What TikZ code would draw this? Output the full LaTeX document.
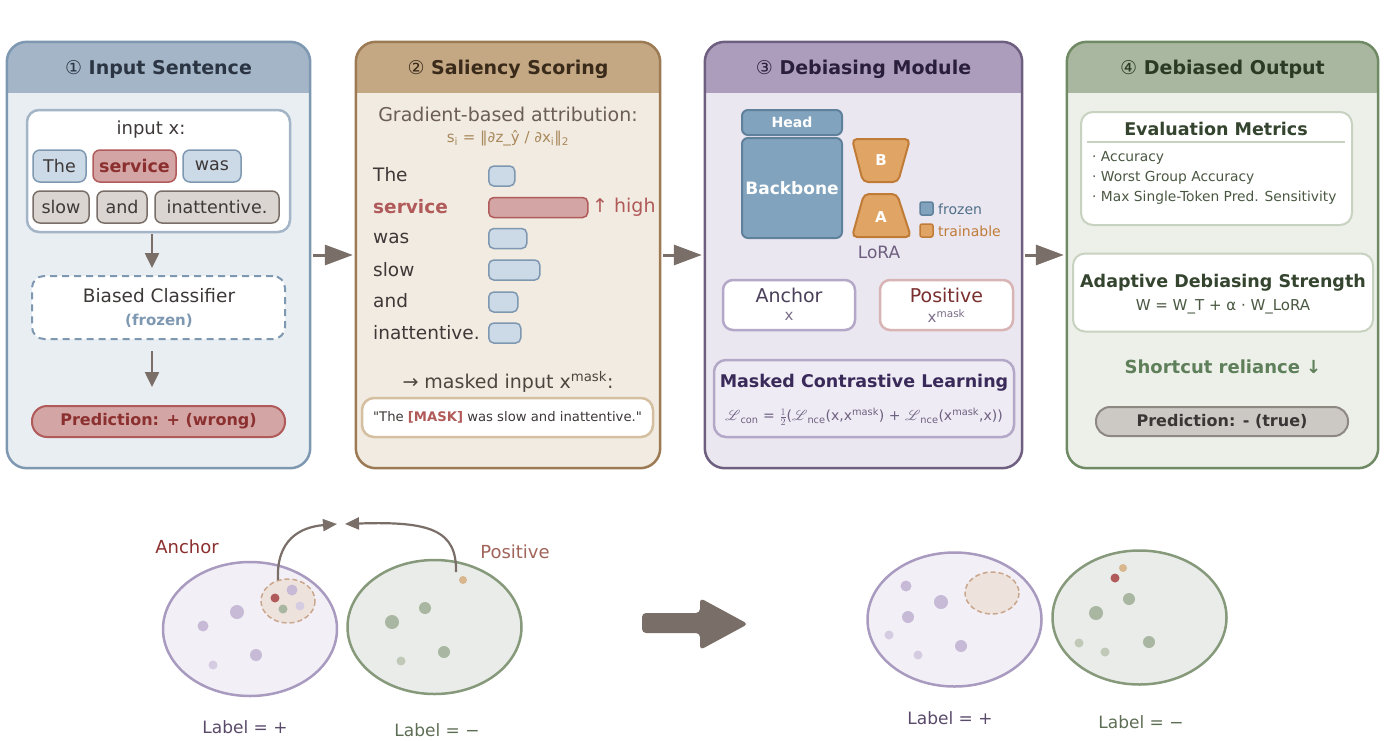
\documentclass[tikz,border=0pt]{standalone}
\usepackage{fontspec}
\setmainfont{DejaVu Sans}
\usepackage{mathrsfs}
\usetikzlibrary{arrows.meta,calc}
\definecolor{hA}{HTML}{A3B5C7}\definecolor{bA}{HTML}{E9EEF3}\definecolor{rA}{HTML}{7E98B2}
\definecolor{hB}{HTML}{C4A884}\definecolor{bB}{HTML}{F2EBE1}\definecolor{rB}{HTML}{9C7B54}
\definecolor{hC}{HTML}{AD9DBD}\definecolor{bC}{HTML}{EBE7F1}\definecolor{rC}{HTML}{6E5F80}
\definecolor{hD}{HTML}{AAB7A0}\definecolor{bD}{HTML}{ECF0E9}\definecolor{rD}{HTML}{6F8A64}
\definecolor{tokblue}{HTML}{CCDAE7}\definecolor{bordblue}{HTML}{7E98B2}
\definecolor{tokred}{HTML}{D4A5A5}\definecolor{bordred}{HTML}{B05A5A}\definecolor{darkred}{HTML}{8B2F2F}
\definecolor{tokgray}{HTML}{DAD5D0}\definecolor{bordgray}{HTML}{7A6E68}
\definecolor{arrgray}{HTML}{7A6E68}\definecolor{txt}{HTML}{3E3838}
\definecolor{bbfill}{HTML}{82A3BD}\definecolor{bbdraw}{HTML}{5F819C}
\definecolor{lfill}{HTML}{E0A565}\definecolor{ldraw}{HTML}{C07B37}
\definecolor{purpline}{HTML}{B4A8C8}\definecolor{pinkline}{HTML}{D9B4B4}
\definecolor{greenline}{HTML}{C8D2C0}\definecolor{greendark}{HTML}{34442E}
\definecolor{greentxt}{HTML}{4A5842}\definecolor{tanline}{HTML}{D4BFA0}
\definecolor{ellApf}{HTML}{F2EFF7}\definecolor{ellApd}{HTML}{A99BC0}
\definecolor{ellBgf}{HTML}{E9ECE8}\definecolor{ellBgd}{HTML}{869A7B}
\definecolor{clf}{HTML}{EEE3DC}\definecolor{cld}{HTML}{C9A68C}
\definecolor{dotP}{HTML}{C6BAD6}\definecolor{dotPl}{HTML}{D6CCE2}
\definecolor{dotG}{HTML}{A9B6A1}\definecolor{dotGl}{HTML}{C0C9B8}
\definecolor{dotT}{HTML}{D8B68E}\definecolor{dotR}{HTML}{B05A5A}
\definecolor{ttA}{HTML}{2A3442}\definecolor{ttB}{HTML}{3A2A1A}\definecolor{ttC}{HTML}{2A1F3A}\definecolor{ttD}{HTML}{2A3A24}
\definecolor{gbac}{HTML}{6B5E55}\definecolor{formc}{HTML}{A8895C}\definecolor{mic}{HTML}{4E4440}
\definecolor{frzc}{HTML}{4F6F88}\definecolor{ancc}{HTML}{4A3F5A}\definecolor{xc}{HTML}{7A6E88}
\definecolor{posc}{HTML}{7A2E2E}\definecolor{mclfill}{HTML}{EEEBF4}\definecolor{mcltc}{HTML}{3A2A5A}
\definecolor{src}{HTML}{5E7F5A}\definecolor{ptf}{HTML}{CCC8C3}\definecolor{ptd}{HTML}{8E8882}
\definecolor{ptt}{HTML}{3A3636}\definecolor{pslc}{HTML}{A0645A}\definecolor{lpc}{HTML}{5A4A6A}
\definecolor{lgc}{HTML}{5E6E55}
\newcommand\fsz[1]{\fontsize{#1}{#1}\selectfont}
\begin{document}
\begin{tikzpicture}[x=1pt,y=-1pt,
  title/.style={font=\bfseries\fsz{19}},
  tok/.style={rounded corners=7, line width=1.5, minimum height=32, inner sep=0, font=\fsz{17.5}, text=txt},
  tokb/.style={tok, fill=tokblue, draw=bordblue},
  tokr/.style={tok, fill=tokred, draw=bordred, text=darkred, font=\bfseries\fsz{17.5}},
  tokg/.style={tok, fill=tokgray, draw=bordgray},
  flow/.style={draw=arrgray, line width=3, -{Triangle[length=28pt,width=20pt]}, shorten <=3pt, shorten >=3pt},
  darr/.style={draw=arrgray, line width=2.5, -{Triangle[length=15pt,width=14pt]}},
  carr/.style={draw=arrgray, line width=2.2, -{Triangle[length=14pt,width=12pt]}},
  bar/.style={rounded corners=5, line width=1.5, minimum height=20, inner sep=0, anchor=west},
  barb/.style={bar, fill=tokblue, draw=bordblue},
  barr/.style={bar, fill=tokred, draw=bordred},
  word/.style={anchor=west, font=\fsz{18.5}, text=txt, inner sep=0},
  wbox/.style={fill=white, line width=2.5, rounded corners=12, inner sep=0},
  plain/.style={inner sep=0}
]
\useasboundingbox (0,0) rectangle (1400,740);

% ---------- panels ----------
\foreach \n/\xa/\xb/\bd/\hd/\br in {p1/7/310/bA/hA/rA, p2/356/660/bB/hB/rB, p3/705/1022/bC/hC/rC, p4/1067/1378/bD/hD/rD}{
  \node[fill=\bd, rounded corners=20, minimum width=\xb-\xa, minimum height=426, inner sep=0] (\n) at ({(\xa+\xb)/2},255) {};
  \begin{scope}
    \clip[rounded corners=20] (\n.north west) rectangle (\n.south east);
    \fill[\hd] (\n.north west) rectangle ($(\n.north east)+(0,51)$);
  \end{scope}
  \draw[\br, line width=2.5, rounded corners=20] (\n.north west) rectangle (\n.south east);
}
\node[title, text=ttA] (t1) at (158.5,69) {\textmd{①} Input Sentence};
\node[title, text=ttB] (t2) at (508,69) {\textmd{②} Saliency Scoring};
\node[title, text=ttC] (t3) at (863.5,69) {\textmd{③} Debiasing Module};
\node[title, text=ttD] (t4) at (1222.5,69) {\textmd{④} Debiased Output};

\draw[flow] (p1.east) -- (p2.west);
\draw[flow] (p2.east) -- (p3.west);
\draw[flow] (p3.east) -- (p4.west);

% ---------- panel 1 ----------
\node[wbox, draw=hA, minimum width=263, minimum height=122] (inbox) at (158.5,171) {};
\node[plain, font=\fsz{18}, text=txt] (inx) at (151,130) {input x:};
\node[tokb, minimum width=53] (w1) at (59.5,166) {The};
\node[tokr, minimum width=83] (w2) at (134.5,166) {service};
\node[tokb, minimum width=58] (w3) at (212,166) {was};
\node[tokg, minimum width=56] (w4) at (61,207) {slow};
\node[tokg, minimum width=50] (w5) at (122,207) {and};
\node[tokg, minimum width=124] (w6) at (217,207) {inattentive.};
\node[fill=white, draw=rA, dash pattern=on 7pt off 5pt, line width=2, rounded corners=12, minimum width=253, minimum height=63, inner sep=0] (clf) at (158.5,307.5) {};
\node[plain, font=\fsz{18.5}, text=txt] (clft) at (159,296) {Biased Classifier};
\node[plain, font=\bfseries\fsz{15}, text=rA] (clff) at (159,321) {(frozen)};
\node[fill=tokred, draw=bordred, line width=2, rounded corners=15, minimum width=253, minimum height=31, inner sep=0, font=\bfseries\fsz{16}, text=darkred] (pred1) at (158.5,421.5) {Prediction: + (wrong)};
\coordinate (ax) at (152,0);
\draw[darr, shorten <=1pt, shorten >=7pt] (inbox.south -| ax) -- (clf.north -| ax);
\draw[darr, shorten <=11pt, shorten >=18pt] (clf.south -| ax) -- (pred1.north -| ax);

% ---------- panel 2 ----------
\node[plain, font=\fsz{19}, text=gbac] (gba) at (508,114) {Gradient-based attribution:};
\node[plain, font=\fsz{15}, text=formc] (form) at (508,138) {s\textsubscript{i} = ‖∂z\_ŷ / ∂x\textsubscript{i}‖\textsubscript{2}};
\node[word] (s1) at (373,175) {The};
\node[word, font=\bfseries\fsz{18.5}, text=bordred] (s2) at (373,207) {service};
\node[word] (s3) at (373,238) {was};
\node[word] (s4) at (373,270) {slow};
\node[word] (s5) at (373,301) {and};
\node[word] (s6) at (373,333) {inattentive.};
\node[barb, minimum width=26] (b1) at (488,176) {};
\node[barr, minimum width=99] (b2) at (488,207.5) {};
\node[barb, minimum width=38] (b3) at (488,238.5) {};
\node[barb, minimum width=51] (b4) at (488,270) {};
\node[barb, minimum width=29] (b5) at (488,302) {};
\node[barb, minimum width=32] (b6) at (488,333) {};
\node[plain, anchor=west, font=\fsz{19}, text=bordred] (hi) at (592,207) {↑ high};
\node[plain, font=\fsz{19}, text=mic] (mi) at (508,382) {→ masked input x\textsuperscript{mask}:};
\node[wbox, draw=tanline, minimum width=291, minimum height=39, font=\fsz{13.2}, text=txt] (mbox) at (507.5,417.5) {\textquotedbl The \textcolor{bordred}{\bfseries[MASK]} was slow and inattentive.\textquotedbl};

% ---------- panel 3 ----------
\node[fill=bbfill, draw=bbdraw, line width=2, rounded corners=6, minimum width=100, minimum height=25, inner sep=0, text=white, font=\bfseries\fsz{14}] (head) at (792,122.5) {Head};
\node[fill=bbfill, draw=bbdraw, line width=2, rounded corners=6, minimum width=100, minimum height=100, inner sep=0, text=white, font=\bfseries\fsz{17}] (bb) at (792,188) {Backbone};
\draw[fill=lfill, draw=ldraw, line width=2, rounded corners=5] (852,139) -- (910,139) -- (898,182) -- (863,182) -- cycle;
\draw[fill=lfill, draw=ldraw, line width=2, rounded corners=5] (864,194) -- (897,194) -- (911,237) -- (852,237) -- cycle;
\node[plain, text=white, font=\bfseries\fsz{15}] (lb) at (881,160) {B};
\node[plain, text=white, font=\bfseries\fsz{15}] (la) at (881,217) {A};
\node[plain, text=rC, font=\fsz{17}] (lora) at (879,252) {LoRA};
\draw[fill=bbfill, draw=bbdraw, line width=1.5, rounded corners=2] (920,202) rectangle (933,215);
\draw[fill=lfill, draw=ldraw, line width=1.5, rounded corners=2] (920,224) rectangle (933,237);
\node[plain, anchor=west, text=frzc, font=\fsz{14}] (lg1) at (938,209) {frozen};
\node[plain, anchor=west, text=ldraw, font=\fsz{14}] (lg2) at (938,231) {trainable};
\node[wbox, draw=purpline, rounded corners=10, minimum width=132, minimum height=50] (anc) at (789,305) {};
\node[plain, text=ancc, font=\fsz{19}] (anct) at (789,295) {Anchor};
\node[plain, text=xc, font=\fsz{15}] (ancx) at (789,316) {x};
\node[wbox, draw=pinkline, rounded corners=10, minimum width=133, minimum height=50] (pos) at (946.5,305) {};
\node[plain, text=posc, font=\fsz{19}] (post) at (946.5,295) {Positive};
\node[plain, text=xc, font=\fsz{15}] (posx) at (946.5,316) {x\textsuperscript{mask}};
\node[fill=mclfill, draw=purpline, line width=2.5, rounded corners=12, minimum width=300, minimum height=77, inner sep=0] (mcl) at (864,398.5) {};
\node[plain, text=mcltc, font=\bfseries\fsz{17.5}] (mclt) at (864,383) {Masked Contrastive Learning};
\node[plain, text=rC, font=\fsz{14}] (mclf) at (864,417) {$\mathscr{L}$\textsubscript{con} = $\textstyle\frac{1}{2}$($\mathscr{L}$\textsubscript{nce}(x,x\textsuperscript{mask}) + $\mathscr{L}$\textsubscript{nce}(x\textsuperscript{mask},x))};

% ---------- panel 4 ----------
\node[wbox, draw=greenline, line width=2, minimum width=271, minimum height=113] (ev) at (1216.5,168.5) {};
\node[plain, text=greendark, font=\bfseries\fsz{17.5}] (evt) at (1216,129) {Evaluation Metrics};
\draw[greenline, line width=1.5] (1087,142) -- (1345,142);
\node[plain, anchor=west, text=greentxt, font=\fsz{13.8}] (m1) at (1092,158) {· Accuracy};
\node[plain, anchor=west, text=greentxt, font=\fsz{13.8}] (m2) at (1092,178) {· Worst Group Accuracy};
\node[plain, anchor=west, text=greentxt, font=\fsz{13.8}] (m3) at (1092,198) {· Max Single-Token Pred. Sensitivity};
\node[wbox, draw=greenline, line width=2, minimum width=300, minimum height=78] (ad) at (1223,292.5) {};
\node[plain, text=greendark, font=\bfseries\fsz{17.5}] (adt) at (1223,283) {Adaptive Debiasing Strength};
\node[plain, text=greentxt, font=\fsz{15}] (adf) at (1223,307) {W = W\_T + α · W\_LoRA};
\node[plain, text=src, font=\bfseries\fsz{18}] (sr) at (1223,367) {Shortcut reliance ↓};
\node[fill=ptf, draw=ptd, line width=2, rounded corners=14, minimum width=252, minimum height=29, inner sep=0, text=ptt, font=\bfseries\fsz{16}] (pred2) at (1222,421.5) {Prediction: - (true)};

% ---------- bottom: before ----------
\draw[fill=ellApf, draw=ellApd, line width=2.5] (250,629) ellipse [x radius=87, y radius=67];
\draw[fill=ellBgf, draw=ellBgd, line width=2.5] (434.5,627) ellipse [x radius=87, y radius=67];
\draw[fill=clf, draw=cld, dash pattern=on 5pt off 3pt, line width=1.5] (288,601) ellipse [x radius=27, y radius=22];
\fill[dotR] (275,598) circle (4.5);
\fill[dotP] (292,590) circle (5.5);
\fill[dotPl] (300,606) circle (4.5);
\fill[dotG] (283,609) circle (4.5);
\fill[dotP] (237,612) circle (7);
\fill[dotP] (203,626) circle (5.5);
\fill[dotP] (256,655) circle (6);
\fill[dotPl] (213,665) circle (4.5);
\fill[dotT] (463,580) circle (4);
\fill[dotG] (425,608) circle (6);
\fill[dotG] (392,622) circle (7);
\fill[dotG] (444,652) circle (6);
\fill[dotGl] (401,661) circle (4.5);
\coordinate (aS) at (278,580);
\coordinate (aE) at (337,524);
\coordinate (pS) at (456,572);
\coordinate (pE) at (345,524);
\draw[carr] (aS) .. controls (276,540) and (300,527) .. (aE);
\draw[carr] (pS) .. controls (457,530) and (430,521) .. (pE);
\node[plain, text=darkred, font=\fsz{18}] (anl) at (187,547) {Anchor};
\node[plain, text=pslc, font=\fsz{18}] (psl) at (515,552) {Positive};
\node[plain, text=lpc, font=\fsz{17}] (l1) at (245,727) {Label = +};
\node[plain, text=lgc, font=\fsz{17}] (l2) at (437,730) {Label = −};

% big arrow
\fill[arrgray, rounded corners=4] (642,613) -- (700,613) -- (700,598) -- (748,624) -- (700,650) -- (700,633) -- (642,633) -- cycle;

% ---------- bottom: after ----------
\draw[fill=ellApf, draw=ellApd, line width=2.5] (954.5,619.5) ellipse [x radius=87, y radius=67];
\draw[fill=ellBgf, draw=ellBgd, line width=2.5] (1139.5,617.5) ellipse [x radius=87, y radius=67];
\draw[fill=clf, draw=cld, dash pattern=on 5pt off 3pt, line width=1.5] (992,593) ellipse [x radius=27, y radius=21];
\fill[dotP] (906,586) circle (5.5);
\fill[dotP] (941,602) circle (7);
\fill[dotP] (908,617) circle (6);
\fill[dotPl] (889,635) circle (4.5);
\fill[dotP] (961,646) circle (6);
\fill[dotPl] (918,655) circle (4.5);
\fill[dotT] (1123,568) circle (4);
\fill[dotR] (1115,578) circle (4.5);
\fill[dotG] (1129,599) circle (6);
\fill[dotG] (1096,613) circle (7);
\fill[dotG] (1149,642) circle (6);
\fill[dotGl] (1079,643) circle (4.5);
\fill[dotGl] (1105,652) circle (4.5);
\node[plain, text=lpc, font=\fsz{17}] (l3) at (950,718) {Label = +};
\node[plain, text=lgc, font=\fsz{17}] (l4) at (1141,722) {Label = −};
\end{tikzpicture}
\end{document}
